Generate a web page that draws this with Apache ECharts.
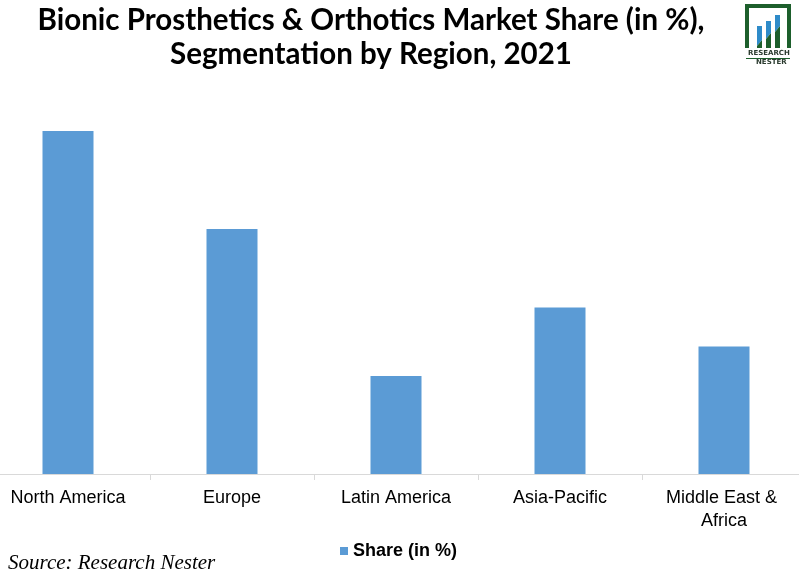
<!DOCTYPE html>
<html>
<head>
<meta charset="utf-8">
<script src="https://cdn.jsdelivr.net/npm/echarts@6/dist/echarts.min.js"></script>
<style>html,body{margin:0;padding:0;background:#fff;overflow:hidden;width:799px;height:573px;}#c{position:absolute;left:-14px;top:0;width:834px;height:573px;}</style>
</head>
<body>
<div id="c"></div>
<script>
const categories = ["North America", "Europe", "Latin America", "Asia-Pacific", "Middle East & Africa"];
const shareValues = [35, 25, 10, 17, 13];
const seriesName = "Share (in %)";
const titleText = "Bionic Prosthetics & Orthotics Market Share (in %),\nSegmentation by Region, 2021";
const sourceText = "Source: Research Nester";

const OX = 14; // offset of chart container (page x = chart x - OX)
const chart = echarts.init(document.getElementById('c'), null, {renderer: 'canvas'});
chart.setOption({
  animation: false,
  backgroundColor: '#ffffff',
  title: {
    text: titleText,
    left: 371 + OX,
    top: 3,
    padding: 0,
    textAlign: 'center',
    textStyle: {fontFamily: 'Lato', fontWeight: 'bold', fontSize: 29.5, lineHeight: 34, color: '#000'}
  },
  legend: {
    data: [seriesName],
    left: 340 + OX,
    top: 542,
    padding: 0,
    icon: 'rect',
    itemWidth: 8,
    itemHeight: 8,
    itemGap: 6,
    textStyle: {fontFamily: 'Liberation Sans', fontWeight: 'bold', fontSize: 18, color: '#000'}
  },
  grid: {left: 0, width: 820, top: 131, height: 343, containLabel: false},
  xAxis: {
    type: 'category',
    data: categories,
    axisLine: {lineStyle: {color: '#d9d9d9', width: 1}},
    axisTick: {show: true, length: 6, lineStyle: {color: '#d9d9d9'}},
    axisLabel: {
      fontFamily: 'Liberation Sans', fontSize: 18, color: '#000', margin: 13,
      lineHeight: 23, width: 140, overflow: 'break', interval: 0
    }
  },
  yAxis: {type: 'value', min: 0, max: 35, show: false, splitLine: {show: false}},
  series: [{
    name: seriesName,
    type: 'bar',
    data: shareValues,
    barWidth: 51,
    itemStyle: {color: '#5b9bd5'}
  }],
  graphic: [
    {type: 'text', left: 8 + OX, top: 553, style: {text: sourceText, font: 'italic 21px "Liberation Serif"', fill: '#000'}},
    // logo
    {type: 'group', x: OX, y: 0, children: [
      {type: 'rect', shape: {x: 745, y: 4, width: 46, height: 4}, style: {fill: '#1d5f2c'}},
      {type: 'rect', shape: {x: 745, y: 4, width: 4, height: 44}, style: {fill: '#1d5f2c'}},
      {type: 'rect', shape: {x: 787, y: 4, width: 4, height: 44}, style: {fill: '#1d5f2c'}},
      {type: 'polygon', shape: {points: [[757,26],[762,26],[762,40],[757,46]]}, style: {fill: '#2e8bc9'}},
      {type: 'polygon', shape: {points: [[757,46],[762,40],[762,48],[757,48]]}, style: {fill: '#1d5f2c'}},
      {type: 'polygon', shape: {points: [[766,21],[771,21],[771,33],[766,39]]}, style: {fill: '#2e8bc9'}},
      {type: 'polygon', shape: {points: [[766,39],[771,33],[771,48],[766,48]]}, style: {fill: '#1d5f2c'}},
      {type: 'polygon', shape: {points: [[775,15],[780,15],[780,26],[775,32]]}, style: {fill: '#2e8bc9'}},
      {type: 'polygon', shape: {points: [[775,32],[780,26],[780,48],[775,48]]}, style: {fill: '#1d5f2c'}},
      {type: 'text', x: 748, y: 50, style: {text: 'RESEARCH', font: 'bold 7px "DejaVu Sans"', fill: '#2a3a2e'}},
      {type: 'rect', shape: {x: 746, y: 58, width: 44, height: 1}, style: {fill: '#1d5f2c'}},
      {type: 'text', x: 756, y: 59, style: {text: 'NESTER', font: 'bold 7px "DejaVu Sans"', fill: '#2a3a2e'}}
    ]}
  ]
});
</script>
</body>
</html>
